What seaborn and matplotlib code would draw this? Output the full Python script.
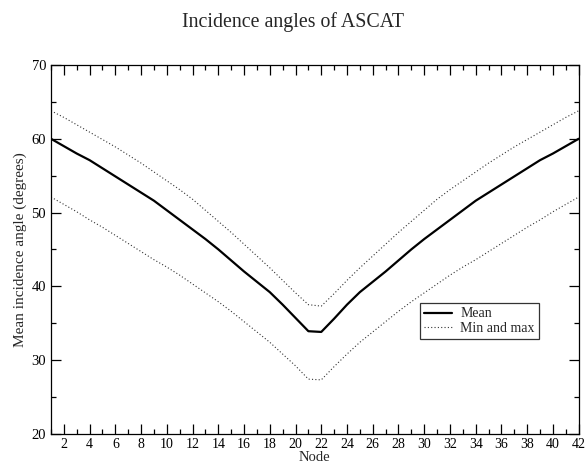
import matplotlib
matplotlib.use("Agg")
import matplotlib.pyplot as plt
from matplotlib.ticker import MultipleLocator
import seaborn as sns
import pandas as pd

nodes = list(range(1, 43))
mean_angle = [60.0, 59.0, 58.0, 57.1, 56.0, 54.9, 53.8, 52.7, 51.6, 50.3,
              49.0, 47.7, 46.4, 45.0, 43.5, 42.0, 40.6, 39.2, 37.5, 35.7,
              33.9, 33.8, 35.6, 37.5, 39.2, 40.6, 42.0, 43.5, 45.0, 46.4,
              47.7, 49.0, 50.3, 51.6, 52.7, 53.8, 54.9, 56.0, 57.1, 58.0,
              59.0, 60.0]
max_angle = [63.8, 62.9, 61.9, 60.9, 59.9, 58.9, 57.8, 56.7, 55.5, 54.3,
             53.1, 51.8, 50.3, 48.8, 47.3, 45.7, 44.1, 42.5, 40.8, 39.1,
             37.5, 37.3, 39.0, 40.8, 42.5, 44.1, 45.7, 47.3, 48.8, 50.3,
             51.8, 53.1, 54.3, 55.5, 56.7, 57.8, 58.9, 59.9, 60.9, 61.9,
             62.9, 63.8]
min_angle = [52.1, 51.1, 50.1, 49.0, 48.0, 46.9, 45.8, 44.7, 43.6, 42.6,
             41.5, 40.3, 39.1, 37.9, 36.6, 35.2, 33.8, 32.4, 30.8, 29.2,
             27.4, 27.3, 29.1, 30.8, 32.4, 33.8, 35.2, 36.6, 37.9, 39.1,
             40.3, 41.5, 42.6, 43.6, 44.7, 45.8, 46.9, 48.0, 49.0, 50.1,
             51.1, 52.1]

title = "Incidence angles of ASCAT"
xlabel = "Node"
ylabel = "Mean incidence angle (degrees)"

df = pd.DataFrame({"node": nodes, "mean": mean_angle,
                   "max": max_angle, "min": min_angle})

sns.set_style("ticks")
plt.rcParams["font.family"] = ["Liberation Serif", "DejaVu Serif"]

fig = plt.figure(figsize=(5.86, 4.69), dpi=100)
ax = fig.add_axes([0.087, 0.0753, 0.9005, 0.786])

sns.lineplot(data=df, x="node", y="mean", ax=ax, color="black",
             linewidth=1.6, label="Mean")
sns.lineplot(data=df, x="node", y="max", ax=ax, color="#333333",
             linewidth=0.8, linestyle=(0, (1, 2)), label="Min and max")
sns.lineplot(data=df, x="node", y="min", ax=ax, color="#333333",
             linewidth=0.8, linestyle=(0, (1, 2)), label="_nolegend_")

ax.set_xlim(1, 42)
ax.set_ylim(20, 70)
ax.xaxis.set_major_locator(MultipleLocator(2))
ax.xaxis.set_minor_locator(MultipleLocator(1))
ax.yaxis.set_major_locator(MultipleLocator(10))
ax.yaxis.set_minor_locator(MultipleLocator(5))
ax.tick_params(which="both", direction="in", top=True, right=True,
               colors="black", labelsize=10, width=0.9)
ax.tick_params(axis="y", labelsize=10.5)
ax.tick_params(which="major", length=7)
ax.tick_params(which="minor", length=3.5)
ax.tick_params(axis="x", which="major", pad=3)
for s in ax.spines.values():
    s.set_color("black")
    s.set_linewidth(0.9)

ax.set_xlabel(xlabel, fontsize=10.5, labelpad=0)
ax.set_ylabel(ylabel, fontsize=11, labelpad=3)
fig.suptitle(title, fontsize=14.3, y=0.975)

leg = ax.legend(loc="lower left", bbox_to_anchor=(0.699, 0.257),
                frameon=True, fancybox=False, fontsize=10,
                handlelength=2.0, handletextpad=0.6, borderpad=0.3,
                labelspacing=0.1, borderaxespad=0)
leg.get_frame().set_edgecolor("black")
leg.get_frame().set_linewidth(0.9)

fig.savefig("out.png", dpi=100)
